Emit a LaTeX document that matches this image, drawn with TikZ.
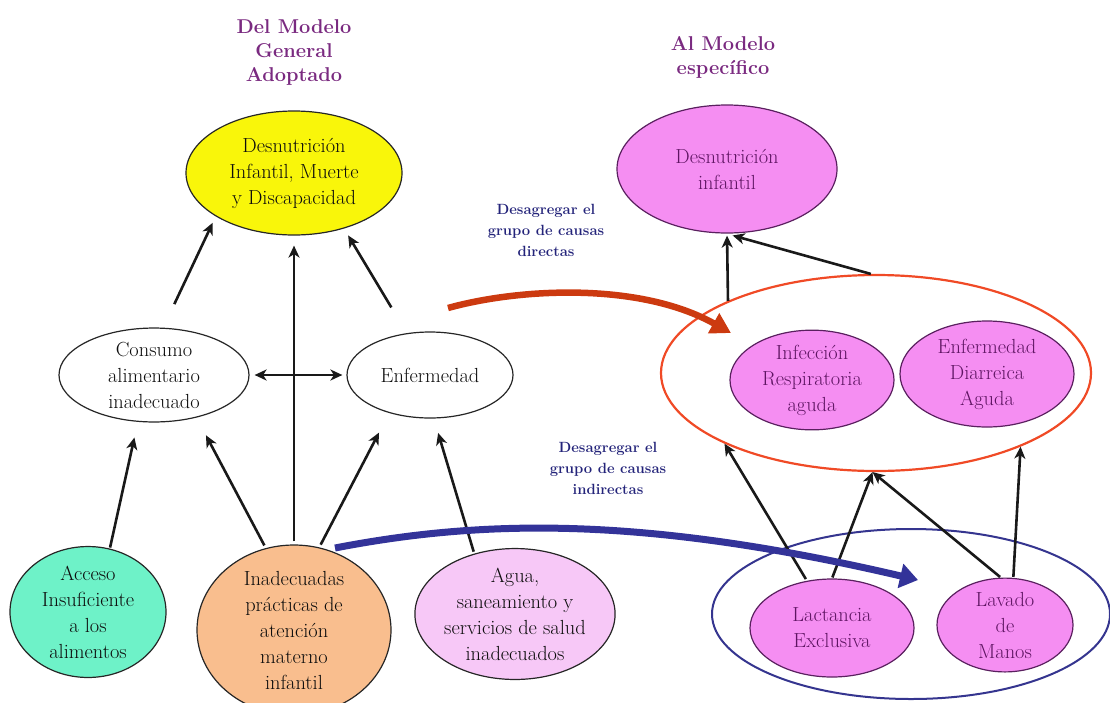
\documentclass[tikz,border=0pt]{standalone}
\usepackage{fontspec}
\usetikzlibrary{shapes.geometric,arrows.meta}

\definecolor{titlepurple}{HTML}{7A2A80}
\definecolor{notenavy}{HTML}{24247A}
\definecolor{yellowfill}{HTML}{F9F60A}
\definecolor{tealfill}{HTML}{6EF2C8}
\definecolor{orangefill}{HTML}{F9BE8E}
\definecolor{aguafill}{HTML}{F7C8F7}
\definecolor{pinkfill}{HTML}{F58EF2}
\definecolor{pinkline}{HTML}{5A205F}
\definecolor{pinktext}{HTML}{5E1462}
\definecolor{groupred}{HTML}{F04A26}
\definecolor{groupblue}{HTML}{35358F}
\definecolor{arrowred}{HTML}{CC3A10}
\definecolor{arrowblue}{HTML}{333399}

\tikzset{
  bubble/.style={ellipse, draw=black!85, line width=1.2pt, inner sep=0pt,
    align=center, font=\fontsize{20.4}{26}\selectfont, text=black!95},
  pinkbubble/.style={bubble, fill=pinkfill, draw=pinkline, text=pinktext},
  group/.style={ellipse, inner sep=0pt},
  cause/.style={line width=2.6pt, draw=black!90,
    -{Stealth[length=12pt,width=11pt,inset=3.5pt]}},
  mutual/.style={line width=2.6pt, draw=black!90,
    {Stealth[length=12pt,width=11pt,inset=3.5pt]}-{Stealth[length=12pt,width=11pt,inset=3.5pt]}},
  heading/.style={font=\bfseries\fontsize{20}{24}\selectfont, text=titlepurple, align=center},
  note/.style={font=\bfseries\fontsize{14.8}{21}\selectfont, text=notenavy, align=center},
}

\begin{document}
\begin{tikzpicture}[x=1pt,y=-1pt]
\useasboundingbox (0,0) rectangle (1110,702);

% headings and notes
\node[heading] (hgen) at (294,52) {Del Modelo\\General\\Adoptado};
\node[heading] (hesp) at (723,57) {Al Modelo\\específico};
\node[note] (ndir) at (546,230) {Desagregar el\\grupo de causas\\directas};
\node[note] (nind) at (608,468) {Desagregar el\\grupo de causas\\indirectas};

% grouping ellipses of the specific model
\node[group, draw=groupred, line width=2.2pt, minimum width=430pt, minimum height=196pt] (gdir) at (876,373) {};
\node[group, draw=groupblue, line width=2pt, minimum width=398pt, minimum height=170pt] (gind) at (911,614) {};

% general model
\node[bubble, fill=yellowfill, minimum width=216pt, minimum height=124pt] (top) at (294,173)
  {Desnutrición\\Infantil, Muerte\\y Discapacidad};
\node[bubble, fill=white, minimum width=190pt, minimum height=86pt] (cons) at (154,375)
  {Consumo\\alimentario\\inadecuado};
\node[bubble, fill=white, minimum width=166pt, minimum height=86pt] (enf) at (430,375)
  {Enfermedad};
\node[bubble, fill=tealfill, minimum width=156pt, minimum height=130pt] (acc) at (88,612)
  {Acceso\\Insuficiente\\a los\\alimentos};
\node[bubble, fill=orangefill, minimum width=194pt, minimum height=170pt] (prac) at (294,630)
  {Inadecuadas\\prácticas de\\atención\\materno\\infantil};
\node[bubble, fill=aguafill, minimum width=200pt, minimum height=126pt] (agua) at (515,614)
  {Agua,\\saneamiento y\\servicios de salud\\inadecuados};

% specific model
\node[pinkbubble, minimum width=220pt, minimum height=128pt] (dn) at (727,169)
  {Desnutrición\\infantil};
\node[pinkbubble, minimum width=164pt, minimum height=98pt] (ira) at (812,380)
  {Infección\\Respiratoria\\aguda};
\node[pinkbubble, minimum width=174pt, minimum height=106pt] (eda) at (987,374)
  {Enfermedad\\Diarreica\\Aguda};
\node[pinkbubble, minimum width=164pt, minimum height=98pt] (lme) at (832,628)
  {Lactancia\\Exclusiva};
\node[pinkbubble, minimum width=136pt, minimum height=92pt] (lav) at (1005,625)
  {Lavado\\de\\Manos};

% causal links, general model
\draw[cause, shorten <=26pt, shorten >=7pt] (cons.79.5) -- (top.209.5);
\draw[cause, shorten <=30pt, shorten >=8pt] (enf.119.6) -- (top.312.8);
\draw[cause, shorten <=3pt, shorten >=10pt] (prac.north) -- (top.south);
\draw[mutual, shorten <=5pt, shorten >=4pt] (cons.east) -- (enf.west);
\draw[cause, shorten <=1pt, shorten >=16pt] (acc.71.7) -- (cons.251.5);
\draw[cause, shorten <=3pt, shorten >=20pt] (prac.109.8) -- (cons.315.1);
\draw[cause, shorten <=3pt, shorten >=22pt] (prac.73.4) -- (enf.223.7);
\draw[cause, shorten <=2pt, shorten >=15pt] (agua.124.9) -- (enf.275);

% causal links, specific model
\draw[cause, shorten >=2pt] (gdir.154.6) -- (dn.south);
\draw[cause, shorten >=7pt] (gdir.93.5) -- (dn.269.1);
\draw[cause, shorten <=2pt] (lme.118.3) -- (gdir.205.6);
\draw[cause, shorten <=1pt] (lme.north) -- (gdir.268);
\draw[cause, shorten <=1pt] (lav.95) -- (gdir.268);
\draw[cause, shorten <=1pt] (lav.80) -- (gdir.333.5);

% broad arrows: from the general to the specific model
\coordinate (dirfrom) at (448,308);
\coordinate (dirto) at (731,333);
\draw[line width=6.5pt, draw=arrowred, -{Triangle[length=20pt,width=22pt]}]
  (dirfrom) .. controls (520,288) and (640,282) .. (dirto);
\coordinate (indfrom) at (335,548);
\coordinate (indto) at (918,580);
\draw[line width=7pt, draw=arrowblue, -{Triangle[length=18pt,width=24pt]}]
  (indfrom) .. controls (480,520) and (640,515) .. (indto);
\end{tikzpicture}
\end{document}
